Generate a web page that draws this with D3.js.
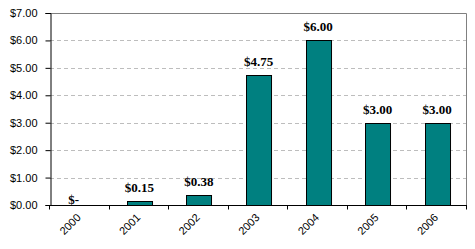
<!DOCTYPE html>
<html>
<head>
<meta charset="utf-8">
<script src="https://cdn.jsdelivr.net/npm/d3@7"></script>
<style>
  body { margin: 0; background: white; }
</style>
</head>
<body>
<div id="chart"></div>
<script>
let years = ["2000", "2001", "2002", "2003", "2004", "2005", "2006"];
let values = [0, 0.15, 0.38, 4.75, 6.00, 3.00, 3.00];
let yTicks = [0, 1, 2, 3, 4, 5, 6, 7];

let width = 475, height = 249;
let margin = {top: 13, right: 8, bottom: 44, left: 50};

let svg = d3.select("#chart").append("svg")
	.attr("width", width)
	.attr("height", height)
	.style("background-color", "white");

let x = d3.scaleBand().domain(years)
	.range([margin.left, width - margin.right])
	.paddingInner(0.58).paddingOuter(0.29);

let y = d3.scaleLinear().domain([0, 7])
	.range([height - margin.bottom, margin.top]);

let fmt = d => "$" + d3.format(".2f")(d);

// gridlines
svg.append("g").selectAll("line")
	.data(yTicks.filter(d => d > 0 && d < 7))
	.enter().append("line")
	.attr("x1", margin.left).attr("x2", width - margin.right)
	.attr("y1", d => Math.round(y(d)) + 0.5).attr("y2", d => Math.round(y(d)) + 0.5)
	.attr("stroke", "#bdbdbd")
	.attr("stroke-dasharray", "4,3");

// top and right border
svg.append("path")
	.attr("d", "M" + margin.left + "," + (margin.top + 0.5) + "H" + (width - margin.right - 0.5) + "V" + (height - margin.bottom))
	.attr("fill", "none")
	.attr("stroke", "#808080");

// bars
svg.append("g").selectAll("rect")
	.data(values)
	.enter().append("rect")
	.attr("x", (d, i) => Math.round(x(years[i])) + 0.5)
	.attr("y", d => Math.round(y(d)) + 0.5)
	.attr("width", x.bandwidth())
	.attr("height", d => Math.round(y(0)) - Math.round(y(d)))
	.attr("fill", "#008080")
	.attr("stroke", "black")
	.attr("stroke-width", 1);

// value labels
svg.append("g").selectAll("text")
	.data(values)
	.enter().append("text")
	.attr("x", (d, i) => x(years[i]) + x.bandwidth() / 2 - (d === 0 ? 6 : 0))
	.attr("y", d => y(d) - (d === 0 ? 1 : 9))
	.attr("text-anchor", "middle")
	.style("font-family", "'Liberation Serif', 'Times New Roman', serif")
	.style("font-weight", "bold")
	.style("font-size", "13px")
	.text(d => d === 0 ? "$-" : fmt(d));

// y axis
let yAxis = svg.append("g")
	.attr("transform", "translate(" + (margin.left + 0.5) + ",0)")
	.call(d3.axisLeft(y).tickValues(yTicks).tickSize(5).tickPadding(8).tickFormat(fmt));
yAxis.selectAll("text")
	.style("font-family", "'Liberation Sans', Arial, sans-serif")
	.style("font-size", "11px")
	.attr("fill", "black");
yAxis.select(".domain").attr("stroke", "black");

// x axis with ticks at band boundaries
let bottomY = Math.round(y(0)) + 0.5;
let xg = svg.append("g");
xg.append("line")
	.attr("x1", margin.left).attr("x2", width - margin.right)
	.attr("y1", bottomY).attr("y2", bottomY)
	.attr("stroke", "black");
let step = x.step();
let edges = years.map((d, i) => x(d) - x.paddingOuter() * step).concat([width - margin.right]);
xg.selectAll(".tk").data(edges).enter().append("line")
	.attr("x1", d => Math.round(d) - 0.5).attr("x2", d => Math.round(d) - 0.5)
	.attr("y1", bottomY).attr("y2", bottomY + 4)
	.attr("stroke", "black");

xg.selectAll(".lbl").data(years).enter().append("text")
	.attr("transform", d => "translate(" + (x(d) + x.bandwidth() / 2 - 1) + "," + (bottomY + 10) + ") rotate(-45)")
	.attr("text-anchor", "end")
	.attr("dy", "0.35em")
	.style("font-family", "'Liberation Sans', Arial, sans-serif")
	.style("font-size", "11px")
	.text(d => d);
</script>
</body>
</html>
